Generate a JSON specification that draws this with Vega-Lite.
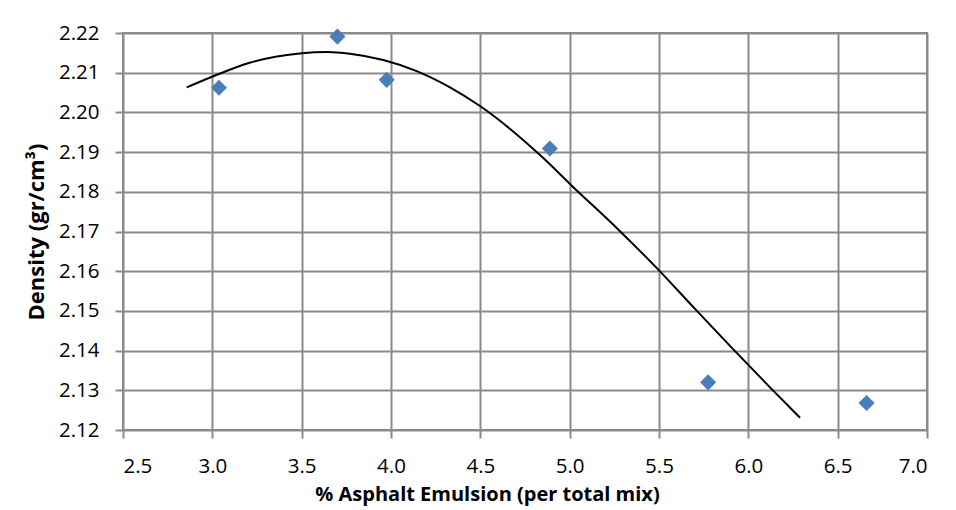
{
  "$schema": "https://vega.github.io/schema/vega-lite/v6.json",
  "width": 804,
  "height": 397,
  "autosize": {"type": "none"},
  "padding": {"left": 123, "top": 33, "right": 29, "bottom": 80},
  "background": "white",
  "config": {
    "font": "Open Sans",
    "view": {"stroke": "#8a8a8a", "strokeWidth": 2},
    "axis": {
      "gridColor": "#8a8a8a",
      "gridWidth": 2,
      "gridOpacity": 1,
      "tickColor": "#8a8a8a",
      "tickWidth": 2,
      "tickSize": 8,
      "domainColor": "#8a8a8a",
      "domainWidth": 2,
      "labelFont": "Open Sans",
      "labelFontSize": 20.5,
      "labelColor": "#000000",
      "labelOverlap": false,
      "titleFont": "Open Sans",
      "titleFontWeight": "bold",
      "titleColor": "#000000"
    }
  },
  "datasets": {
    "points": [
      {"emulsion": 3.037, "density": 2.2062},
      {"emulsion": 3.70, "density": 2.2191},
      {"emulsion": 3.976, "density": 2.2082},
      {"emulsion": 4.889, "density": 2.1909},
      {"emulsion": 5.775, "density": 2.1320},
      {"emulsion": 6.662, "density": 2.1268}
    ],
    "trend": [
      {"emulsion": 2.8565, "density": 2.2063},
      {"emulsion": 3.0054, "density": 2.2091},
      {"emulsion": 3.2091, "density": 2.2125},
      {"emulsion": 3.5002, "density": 2.2149},
      {"emulsion": 3.6401, "density": 2.2152},
      {"emulsion": 3.7705, "density": 2.2148},
      {"emulsion": 3.9569, "density": 2.2132},
      {"emulsion": 4.1438, "density": 2.2104},
      {"emulsion": 4.3302, "density": 2.2063},
      {"emulsion": 4.4981, "density": 2.2016},
      {"emulsion": 4.8524, "density": 2.1885},
      {"emulsion": 5.0057, "density": 2.1818},
      {"emulsion": 5.2745, "density": 2.1704},
      {"emulsion": 5.4961, "density": 2.1604},
      {"emulsion": 5.7015, "density": 2.1505},
      {"emulsion": 5.9159, "density": 2.1403},
      {"emulsion": 6.1308, "density": 2.1303},
      {"emulsion": 6.2892, "density": 2.1231}
    ]
  },
  "encoding": {
    "x": {
      "field": "emulsion",
      "type": "quantitative",
      "scale": {"domain": [2.5, 7.0], "nice": false, "zero": false},
      "axis": {
        "title": "% Asphalt Emulsion (per total mix)",
        "values": [2.5, 3.0, 3.5, 4.0, 4.5, 5.0, 5.5, 6.0, 6.5, 7.0],
        "tickCount": 20,
        "format": ".1f",
        "labelPadding": 18,
        "domain": false,
        "titleFontSize": 20,
        "titleX": 364,
        "titleY": 70,
        "titleBaseline": "alphabetic",
        "titleAnchor": null
      }
    },
    "y": {
      "field": "density",
      "type": "quantitative",
      "scale": {"domain": [2.12, 2.22], "nice": false, "zero": false},
      "axis": {
        "title": "Density (gr/cm³)",
        "values": [2.12, 2.13, 2.14, 2.15, 2.16, 2.17, 2.18, 2.19, 2.20, 2.21, 2.22],
        "tickCount": 20,
        "format": ".2f",
        "labelPadding": 16,
        "domain": false,
        "titleFontSize": 22,
        "titleX": -80,
        "titleY": 198.5,
        "titleAngle": -90,
        "titleAlign": "center",
        "titleBaseline": "alphabetic",
        "titleAnchor": null
      }
    }
  },
  "layer": [
    {
      "data": {"name": "trend"},
      "mark": {"type": "line", "color": "#000000", "strokeWidth": 2, "interpolate": "monotone"}
    },
    {
      "data": {"name": "points"},
      "mark": {"type": "point", "shape": "diamond", "filled": true, "color": "#4a7ebb", "opacity": 1, "size": 260}
    }
  ]
}
